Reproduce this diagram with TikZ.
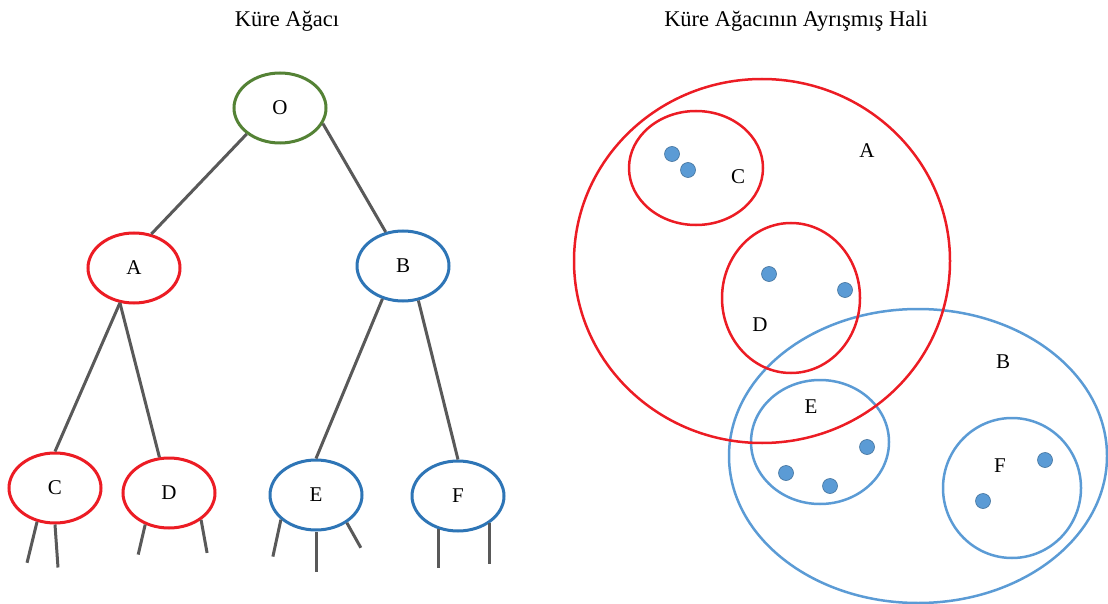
\documentclass[tikz,border=0pt]{standalone}
\usepackage{fontspec}
\setmainfont{Liberation Serif}
\usetikzlibrary{shapes.geometric}
\definecolor{knotred}{RGB}{236,28,36}
\definecolor{knotblue}{RGB}{46,117,182}
\definecolor{knotgreen}{RGB}{84,130,53}
\definecolor{zoneblue}{RGB}{91,155,213}
\definecolor{dotedge}{RGB}{65,113,156}
\definecolor{branch}{RGB}{89,89,89}
\tikzset{
	knot/.style={ellipse, draw, line width=3pt, fill=white, inner sep=0pt,
		minimum width=92pt, minimum height=70pt, font=\fontsize{21}{24}\selectfont},
	zone/.style={ellipse, draw, line width=2.5pt, inner sep=0pt},
	tag/.style={font=\fontsize{21}{24}\selectfont},
	head/.style={font=\fontsize{22.5}{26}\selectfont},
	pt/.style={circle, fill=zoneblue, draw=dotedge, line width=0.6pt, inner sep=0pt, minimum size=15pt},
	branch/.style={draw=branch, line width=3pt}
}
\begin{document}
\begin{tikzpicture}[x=1pt,y=1pt]
	\useasboundingbox (0,0) rectangle (1108,-604);
	\node[head] (t1) at (287,-21) {Küre Ağacı};
	\node[head] (t2) at (796,-21) {Küre Ağacının Ayrışmış Hali};
	% agac
	\node[knot, draw=knotgreen] (O) at (280,-108) {O};
	\node[knot, draw=knotred] (A) at (134,-268) {A};
	\node[knot, draw=knotblue] (B) at (403,-266) {B};
	\node[knot, draw=knotred] (C) at (55,-488) {C};
	\node[knot, draw=knotred] (D) at (169,-493) {D};
	\node[knot, draw=knotblue] (E) at (316,-495) {E};
	\node[knot, draw=knotblue] (F) at (458,-496) {F};
	\draw[branch] (O.218) -- (A.63);
	\draw[branch] (O.340) -- (B.117);
	\draw[branch] (A.248) -- (C.90);
	\draw[branch] (A.248) -- (D.105);
	\draw[branch] (B.238) -- (E.90);
	\draw[branch] (B.294) -- (F.90);
	% alt dallar
	\foreach \n/\a/\dx/\dy [count=\k] in {C/242/-10/-41, C/270/3/-43, D/233/-7/-30, D/320/6/-33,
		E/215/-8/-37, E/270/0/-40, E/318/14/-25, F/239/0/-39, F/319/0/-41}
		\draw[branch] (\n.\a) -- ++(\dx,\dy) coordinate (s\k);
	% ayrisma
	\node[zone, draw=zoneblue, minimum width=378pt, minimum height=294pt] (rB) at (918,-456) {};
	\node[zone, draw=zoneblue, minimum width=138pt, minimum height=124pt] (rE) at (820,-442) {};
	\node[zone, draw=zoneblue, minimum width=138pt, minimum height=140pt] (rF) at (1012,-488) {};
	\node[zone, draw=knotred, minimum width=376pt, minimum height=364pt] (rA) at (762,-261) {};
	\node[zone, draw=knotred, minimum width=134pt, minimum height=114pt] (rC) at (696,-168) {};
	\node[zone, draw=knotred, minimum width=138pt, minimum height=150pt] (rD) at (791,-298) {};
	\node[tag] (lA) at (867,-151) {A};
	\node[tag] (lB) at (1003,-362) {B};
	\node[tag] (lC) at (738,-177) {C};
	\node[tag] (lD) at (760,-325) {D};
	\node[tag] (lE) at (811,-407) {E};
	\node[tag] (lF) at (1000,-466) {F};
	\foreach \x/\y [count=\k] in {672/154, 688/170, 769/274, 845/290, 867/447, 786/473, 830/486, 1045/460, 983/501}
		\node[pt] (p\k) at (\x,-\y) {};
\end{tikzpicture}
\end{document}
